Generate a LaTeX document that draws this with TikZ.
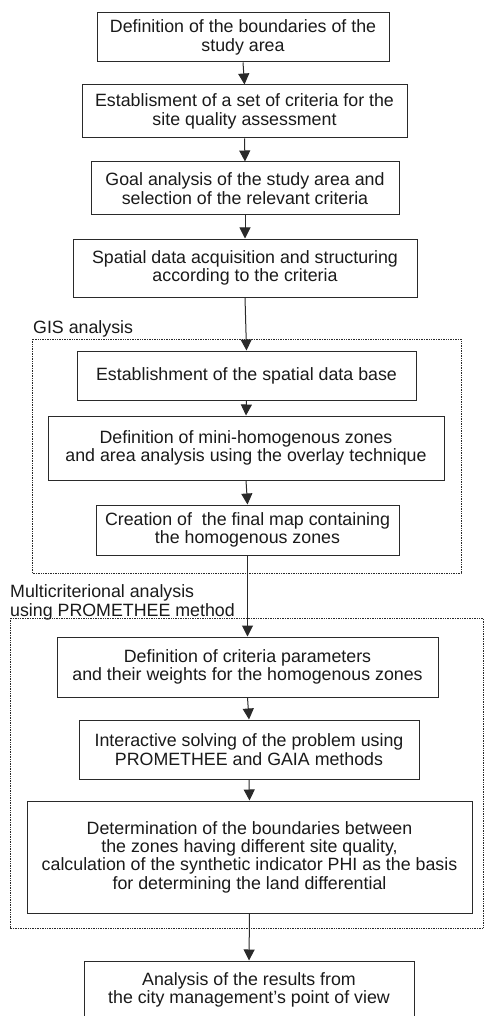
\documentclass[tikz,border=0pt]{standalone}
\usepackage{fontspec}
\setmainfont{Liberation Sans}
\usetikzlibrary{arrows.meta}
\definecolor{linec}{HTML}{2A2A2A}
\definecolor{textc}{HTML}{1A1A1A}
\begin{document}
\begin{tikzpicture}[x=1pt,y=-1pt,
  box/.style={draw=linec, line width=1pt, rectangle, align=center, inner sep=0pt,
    font=\fontsize{17.8}{18.3}\selectfont, text=textc},
  lab/.style={inner sep=0pt, align=left, font=\fontsize{17.8}{18.3}\selectfont, text=textc},
  arr/.style={draw=linec, line width=1pt, -{Triangle[width=11pt,length=11pt]}},
  grp/.style={draw=linec, line width=0.7pt, densely dotted}]
\useasboundingbox (0,0) rectangle (484,1016);
\fill[white] (0,0) rectangle (484,1016);

\node[box, minimum width=292pt, minimum height=49pt] (b1) at (243,37.5)
  {Definition of the boundaries of the\\study area};
\node[box, minimum width=325pt, minimum height=53pt] (b2) at (244.5,111.5)
  {Establisment of a set of criteria for the\\site quality assessment};
\node[box, minimum width=308pt, minimum height=53pt] (b3) at (245,188.5)
  {Goal analysis of the study area and\\selection of the relevant criteria};
\node[box, minimum width=344pt, minimum height=58pt] (b4) at (245,268)
  {Spatial data acquisition and structuring\\according to the criteria};

\node[lab, anchor=west] (gis) at (33,329) {GIS analysis};
\draw[grp] (32,339) rectangle (461,573);

\node[box, minimum width=339pt, minimum height=49pt] (b5) at (246.5,375.5)
  {Establishment of the spatial data base};
\node[box, minimum width=396pt, minimum height=64pt] (b6) at (246,448)
  {Definition of mini-homogenous zones\\and area analysis using the overlay technique};
\node[box, minimum width=303pt, minimum height=50pt] (b7) at (247.5,530)
  {Creation of\ \ the final map containing\\the homogenous zones};

\node[lab, anchor=west] (mc) at (10,602.5) {Multicriterional analysis\\using PROMETHEE method};
\draw[grp] (10,618) rectangle (483,928);

\node[box, minimum width=381pt, minimum height=60pt] (b8) at (247.5,667)
  {Definition of criteria parameters\\and their weights for the homogenous zones};
\node[box, minimum width=340pt, minimum height=59pt] (b9) at (249,749.5)
  {Interactive solving of the problem using\\PROMETHEE and GAIA methods};
\node[box, minimum width=445pt, minimum height=112pt] (b10) at (249.5,857)
  {Determination of the boundaries between\\the zones having different site quality,\\calculation of the synthetic indicator PHI as the basis\\for determining the land differential};
\node[box, minimum width=330pt, minimum height=58pt] (b11) at (249,990)
  {Analysis of the results from\\the city management's point of view};

\draw[arr] (b1.south) -- (b2.north);
\draw[arr] (b2.south) -- (b3.north);
\draw[arr] (b3.south) -- (b4.north);
\draw[arr] (b4.south) -- (b5.north);
\draw[arr] (b5.south) -- (b6.north);
\draw[arr] (b6.south) -- (b7.north);
\draw[arr] (b7.south) -- (b8.north);
\draw[arr] (b8.south) -- (b9.north);
\draw[arr] (b9.south) -- (b10.north);
\draw[arr] (b10.south) -- (b11.north);
\end{tikzpicture}
\end{document}
